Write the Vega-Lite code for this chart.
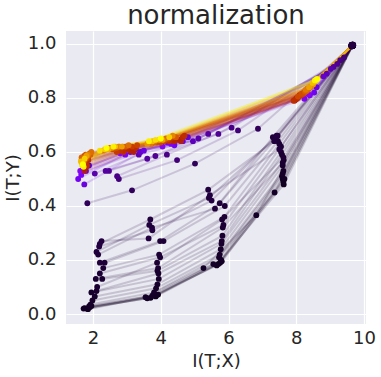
{
  "$schema": "https://vega.github.io/schema/vega-lite/v6.json",
  "width": 300,
  "height": 293,
  "padding": {"left": 4, "top": 3, "right": 0, "bottom": 0},
  "background": "white",
  "title": {"text": "normalization", "fontSize": 26, "font": "DejaVu Sans", "fontWeight": "normal", "color": "#262626", "offset": 2, "anchor": "middle"},
  "config": {
    "view": {"fill": "#EAEAF2", "stroke": null},
    "axis": {"domain": false, "ticks": false, "gridColor": "#ffffff", "gridWidth": 1.2, "labelFont": "DejaVu Sans", "labelFontSize": 18, "labelColor": "#262626", "titleFont": "DejaVu Sans", "titleFontSize": 18, "titleFontWeight": "normal", "titleColor": "#262626"}
  },
  "data": {"values": [
    {"epoch":20,"layer":1,"x":9.66,"y":0.995},{"epoch":20,"layer":2,"x":7.62,"y":0.49},{"epoch":20,"layer":3,"x":5.75,"y":0.19},{"epoch":20,"layer":4,"x":3.85,"y":0.065},{"epoch":20,"layer":5,"x":1.80,"y":0.02},
    {"epoch":21,"layer":1,"x":9.65,"y":0.993},{"epoch":21,"layer":2,"x":7.60,"y":0.50},{"epoch":21,"layer":3,"x":5.70,"y":0.185},{"epoch":21,"layer":4,"x":3.70,"y":0.06},{"epoch":21,"layer":5,"x":1.75,"y":0.022},
    {"epoch":22,"layer":1,"x":9.67,"y":0.996},{"epoch":22,"layer":2,"x":7.63,"y":0.48},{"epoch":22,"layer":3,"x":5.78,"y":0.20},{"epoch":22,"layer":4,"x":3.88,"y":0.07},{"epoch":22,"layer":5,"x":1.85,"y":0.018},
    {"epoch":23,"layer":1,"x":9.64,"y":0.992},{"epoch":23,"layer":2,"x":7.58,"y":0.51},{"epoch":23,"layer":3,"x":5.65,"y":0.18},{"epoch":23,"layer":4,"x":3.60,"y":0.058},{"epoch":23,"layer":5,"x":1.90,"y":0.025},
    {"epoch":24,"layer":1,"x":9.66,"y":0.994},{"epoch":24,"layer":2,"x":7.65,"y":0.50},{"epoch":24,"layer":3,"x":5.80,"y":0.195},{"epoch":24,"layer":4,"x":3.92,"y":0.072},{"epoch":24,"layer":5,"x":1.95,"y":0.03},
    {"epoch":25,"layer":1,"x":9.65,"y":0.995},{"epoch":25,"layer":2,"x":6.82,"y":0.366},{"epoch":25,"layer":3,"x":5.26,"y":0.17},{"epoch":25,"layer":4,"x":3.55,"y":0.062},{"epoch":25,"layer":5,"x":1.72,"y":0.02},
    {"epoch":26,"layer":1,"x":9.67,"y":0.994},{"epoch":26,"layer":2,"x":7.36,"y":0.45},{"epoch":26,"layer":3,"x":5.55,"y":0.185},{"epoch":26,"layer":4,"x":3.75,"y":0.068},{"epoch":26,"layer":5,"x":1.88,"y":0.028},
    {"epoch":27,"layer":1,"x":9.66,"y":0.996},{"epoch":27,"layer":2,"x":7.60,"y":0.52},{"epoch":27,"layer":3,"x":5.72,"y":0.21},{"epoch":27,"layer":4,"x":3.80,"y":0.08},{"epoch":27,"layer":5,"x":1.92,"y":0.035},
    {"epoch":28,"layer":1,"x":9.65,"y":0.993},{"epoch":28,"layer":2,"x":7.62,"y":0.53},{"epoch":28,"layer":3,"x":5.74,"y":0.22},{"epoch":28,"layer":4,"x":3.86,"y":0.095},{"epoch":28,"layer":5,"x":1.98,"y":0.05},
    {"epoch":29,"layer":1,"x":9.66,"y":0.995},{"epoch":29,"layer":2,"x":7.60,"y":0.55},{"epoch":29,"layer":3,"x":5.77,"y":0.24},{"epoch":29,"layer":4,"x":3.90,"y":0.11},{"epoch":29,"layer":5,"x":2.05,"y":0.065},
    {"epoch":30,"layer":1,"x":9.64,"y":0.994},{"epoch":30,"layer":2,"x":7.63,"y":0.57},{"epoch":30,"layer":3,"x":5.79,"y":0.26},{"epoch":30,"layer":4,"x":3.94,"y":0.13},{"epoch":30,"layer":5,"x":1.95,"y":0.08},
    {"epoch":31,"layer":1,"x":9.66,"y":0.996},{"epoch":31,"layer":2,"x":7.58,"y":0.59},{"epoch":31,"layer":3,"x":5.80,"y":0.27},{"epoch":31,"layer":4,"x":3.93,"y":0.15},{"epoch":31,"layer":5,"x":2.10,"y":0.085},
    {"epoch":32,"layer":1,"x":9.65,"y":0.995},{"epoch":32,"layer":2,"x":7.55,"y":0.60},{"epoch":32,"layer":3,"x":5.82,"y":0.29},{"epoch":32,"layer":4,"x":3.90,"y":0.16},{"epoch":32,"layer":5,"x":2.27,"y":0.13},
    {"epoch":33,"layer":1,"x":9.67,"y":0.994},{"epoch":33,"layer":2,"x":7.60,"y":0.56},{"epoch":33,"layer":3,"x":5.83,"y":0.32},{"epoch":33,"layer":4,"x":3.92,"y":0.17},{"epoch":33,"layer":5,"x":2.08,"y":0.13},
    {"epoch":34,"layer":1,"x":9.66,"y":0.995},{"epoch":34,"layer":2,"x":7.62,"y":0.58},{"epoch":34,"layer":3,"x":5.81,"y":0.35},{"epoch":34,"layer":4,"x":3.89,"y":0.19},{"epoch":34,"layer":5,"x":2.12,"y":0.10},
    {"epoch":35,"layer":1,"x":9.65,"y":0.993},{"epoch":35,"layer":2,"x":7.55,"y":0.62},{"epoch":35,"layer":3,"x":5.85,"y":0.33},{"epoch":35,"layer":4,"x":3.98,"y":0.21},{"epoch":35,"layer":5,"x":2.20,"y":0.15},
    {"epoch":36,"layer":1,"x":9.66,"y":0.996},{"epoch":36,"layer":2,"x":7.50,"y":0.63},{"epoch":36,"layer":3,"x":5.88,"y":0.36},{"epoch":36,"layer":4,"x":3.95,"y":0.22},{"epoch":36,"layer":5,"x":2.30,"y":0.17},
    {"epoch":37,"layer":1,"x":9.64,"y":0.995},{"epoch":37,"layer":2,"x":7.46,"y":0.64},{"epoch":37,"layer":3,"x":5.89,"y":0.40},{"epoch":37,"layer":4,"x":4.08,"y":0.27},{"epoch":37,"layer":5,"x":2.34,"y":0.19},
    {"epoch":38,"layer":1,"x":9.66,"y":0.994},{"epoch":38,"layer":2,"x":7.40,"y":0.65},{"epoch":38,"layer":3,"x":5.74,"y":0.41},{"epoch":38,"layer":4,"x":3.98,"y":0.27},{"epoch":38,"layer":5,"x":2.20,"y":0.19},
    {"epoch":39,"layer":1,"x":9.65,"y":0.995},{"epoch":39,"layer":2,"x":7.31,"y":0.655},{"epoch":39,"layer":3,"x":5.60,"y":0.39},{"epoch":39,"layer":4,"x":3.74,"y":0.32},{"epoch":39,"layer":5,"x":2.15,"y":0.22},
    {"epoch":40,"layer":1,"x":9.67,"y":0.996},{"epoch":40,"layer":2,"x":7.45,"y":0.66},{"epoch":40,"layer":3,"x":5.42,"y":0.43},{"epoch":40,"layer":4,"x":3.66,"y":0.33},{"epoch":40,"layer":5,"x":2.10,"y":0.23},
    {"epoch":41,"layer":1,"x":9.66,"y":0.995},{"epoch":41,"layer":2,"x":7.35,"y":0.64},{"epoch":41,"layer":3,"x":5.40,"y":0.46},{"epoch":41,"layer":4,"x":3.69,"y":0.35},{"epoch":41,"layer":5,"x":2.20,"y":0.26},
    {"epoch":42,"layer":1,"x":9.65,"y":0.994},{"epoch":42,"layer":2,"x":7.50,"y":0.61},{"epoch":42,"layer":3,"x":5.45,"y":0.44},{"epoch":42,"layer":4,"x":3.64,"y":0.28},{"epoch":42,"layer":5,"x":2.25,"y":0.27},
    {"epoch":43,"layer":1,"x":9.66,"y":0.995},{"epoch":43,"layer":2,"x":7.42,"y":0.66},{"epoch":43,"layer":3,"x":5.50,"y":0.42},{"epoch":43,"layer":4,"x":3.75,"y":0.31},{"epoch":43,"layer":5,"x":2.18,"y":0.25},
    {"epoch":60,"layer":1,"x":9.64,"y":0.992},{"epoch":60,"layer":2,"x":6.87,"y":0.686},{"epoch":60,"layer":3,"x":5.01,"y":0.557},{"epoch":60,"layer":4,"x":3.15,"y":0.458},{"epoch":60,"layer":5,"x":1.83,"y":0.41},
    {"epoch":80,"layer":1,"x":9.65,"y":0.993},{"epoch":80,"layer":2,"x":9.41,"y":0.95},{"epoch":80,"layer":3,"x":6.28,"y":0.68},{"epoch":80,"layer":4,"x":4.48,"y":0.57},{"epoch":80,"layer":5,"x":2.76,"y":0.50},
    {"epoch":90,"layer":1,"x":9.64,"y":0.994},{"epoch":90,"layer":2,"x":9.30,"y":0.94},{"epoch":90,"layer":3,"x":6.09,"y":0.69},{"epoch":90,"layer":4,"x":4.18,"y":0.59},{"epoch":90,"layer":5,"x":2.71,"y":0.51},
    {"epoch":100,"layer":1,"x":9.65,"y":0.992},{"epoch":100,"layer":2,"x":9.21,"y":0.926},{"epoch":100,"layer":3,"x":5.70,"y":0.667},{"epoch":100,"layer":4,"x":3.84,"y":0.585},{"epoch":100,"layer":5,"x":2.47,"y":0.53},
    {"epoch":110,"layer":1,"x":9.63,"y":0.993},{"epoch":110,"layer":2,"x":9.10,"y":0.915},{"epoch":110,"layer":3,"x":5.40,"y":0.667},{"epoch":110,"layer":4,"x":3.60,"y":0.575},{"epoch":110,"layer":5,"x":2.37,"y":0.53},
    {"epoch":125,"layer":1,"x":9.65,"y":0.994},{"epoch":125,"layer":2,"x":9.02,"y":0.908},{"epoch":125,"layer":3,"x":5.11,"y":0.65},{"epoch":125,"layer":4,"x":3.35,"y":0.59},{"epoch":125,"layer":5,"x":2.05,"y":0.52},
    {"epoch":140,"layer":1,"x":9.64,"y":0.992},{"epoch":140,"layer":2,"x":8.90,"y":0.89},{"epoch":140,"layer":3,"x":4.95,"y":0.64},{"epoch":140,"layer":4,"x":3.26,"y":0.61},{"epoch":140,"layer":5,"x":1.88,"y":0.55},
    {"epoch":160,"layer":1,"x":9.65,"y":0.993},{"epoch":160,"layer":2,"x":8.80,"y":0.88},{"epoch":160,"layer":3,"x":4.80,"y":0.655},{"epoch":160,"layer":4,"x":3.40,"y":0.60},{"epoch":160,"layer":5,"x":1.79,"y":0.53},
    {"epoch":180,"layer":1,"x":9.64,"y":0.992},{"epoch":180,"layer":2,"x":8.60,"y":0.84},{"epoch":180,"layer":3,"x":4.65,"y":0.64},{"epoch":180,"layer":4,"x":3.50,"y":0.605},{"epoch":180,"layer":5,"x":1.74,"y":0.48},
    {"epoch":200,"layer":1,"x":9.65,"y":0.993},{"epoch":200,"layer":2,"x":8.53,"y":0.82},{"epoch":200,"layer":3,"x":4.40,"y":0.625},{"epoch":200,"layer":4,"x":3.10,"y":0.60},{"epoch":200,"layer":5,"x":1.56,"y":0.50},
    {"epoch":225,"layer":1,"x":9.64,"y":0.992},{"epoch":225,"layer":2,"x":8.40,"y":0.81},{"epoch":225,"layer":3,"x":4.20,"y":0.635},{"epoch":225,"layer":4,"x":2.95,"y":0.59},{"epoch":225,"layer":5,"x":1.65,"y":0.515},
    {"epoch":250,"layer":1,"x":9.65,"y":0.993},{"epoch":250,"layer":2,"x":8.24,"y":0.797},{"epoch":250,"layer":3,"x":4.30,"y":0.63},{"epoch":250,"layer":4,"x":3.20,"y":0.605},{"epoch":250,"layer":5,"x":1.70,"y":0.535},
    {"epoch":280,"layer":1,"x":9.64,"y":0.992},{"epoch":280,"layer":2,"x":8.35,"y":0.815},{"epoch":280,"layer":3,"x":4.05,"y":0.62},{"epoch":280,"layer":4,"x":2.80,"y":0.595},{"epoch":280,"layer":5,"x":1.62,"y":0.53},
    {"epoch":480,"layer":1,"x":9.65,"y":0.992},{"epoch":480,"layer":2,"x":7.95,"y":0.79},{"epoch":480,"layer":3,"x":4.60,"y":0.64},{"epoch":480,"layer":4,"x":3.20,"y":0.60},{"epoch":480,"layer":5,"x":1.75,"y":0.53},
    {"epoch":492,"layer":1,"x":9.64,"y":0.993},{"epoch":492,"layer":2,"x":8.02,"y":0.80},{"epoch":492,"layer":3,"x":4.55,"y":0.645},{"epoch":492,"layer":4,"x":3.15,"y":0.61},{"epoch":492,"layer":5,"x":1.78,"y":0.56},
    {"epoch":505,"layer":1,"x":9.64,"y":0.993},{"epoch":505,"layer":2,"x":8.00,"y":0.795},{"epoch":505,"layer":3,"x":4.50,"y":0.645},{"epoch":505,"layer":4,"x":3.10,"y":0.605},{"epoch":505,"layer":5,"x":1.80,"y":0.545},
    {"epoch":517,"layer":1,"x":9.65,"y":0.992},{"epoch":517,"layer":2,"x":8.12,"y":0.81},{"epoch":517,"layer":3,"x":4.35,"y":0.645},{"epoch":517,"layer":4,"x":2.85,"y":0.61},{"epoch":517,"layer":5,"x":1.73,"y":0.565},
    {"epoch":530,"layer":1,"x":9.65,"y":0.992},{"epoch":530,"layer":2,"x":8.05,"y":0.80},{"epoch":530,"layer":3,"x":4.40,"y":0.64},{"epoch":530,"layer":4,"x":3.00,"y":0.61},{"epoch":530,"layer":5,"x":1.72,"y":0.55},
    {"epoch":542,"layer":1,"x":9.64,"y":0.993},{"epoch":542,"layer":2,"x":7.98,"y":0.795},{"epoch":542,"layer":3,"x":4.65,"y":0.655},{"epoch":542,"layer":4,"x":3.25,"y":0.615},{"epoch":542,"layer":5,"x":1.86,"y":0.57},
    {"epoch":555,"layer":1,"x":9.64,"y":0.993},{"epoch":555,"layer":2,"x":7.92,"y":0.79},{"epoch":555,"layer":3,"x":4.70,"y":0.66},{"epoch":555,"layer":4,"x":2.90,"y":0.60},{"epoch":555,"layer":5,"x":1.82,"y":0.55},
    {"epoch":567,"layer":1,"x":9.65,"y":0.992},{"epoch":567,"layer":2,"x":8.18,"y":0.815},{"epoch":567,"layer":3,"x":4.25,"y":0.64},{"epoch":567,"layer":4,"x":2.75,"y":0.605},{"epoch":567,"layer":5,"x":1.69,"y":0.56},
    {"epoch":580,"layer":1,"x":9.65,"y":0.992},{"epoch":580,"layer":2,"x":8.10,"y":0.81},{"epoch":580,"layer":3,"x":4.30,"y":0.65},{"epoch":580,"layer":4,"x":2.80,"y":0.605},{"epoch":580,"layer":5,"x":1.76,"y":0.56},
    {"epoch":592,"layer":1,"x":9.64,"y":0.993},{"epoch":592,"layer":2,"x":8.08,"y":0.805},{"epoch":592,"layer":3,"x":4.12,"y":0.645},{"epoch":592,"layer":4,"x":2.65,"y":0.615},{"epoch":592,"layer":5,"x":1.81,"y":0.58},
    {"epoch":605,"layer":1,"x":9.64,"y":0.993},{"epoch":605,"layer":2,"x":8.15,"y":0.81},{"epoch":605,"layer":3,"x":4.20,"y":0.645},{"epoch":605,"layer":4,"x":2.70,"y":0.60},{"epoch":605,"layer":5,"x":1.68,"y":0.57},
    {"epoch":617,"layer":1,"x":9.65,"y":0.992},{"epoch":617,"layer":2,"x":8.22,"y":0.82},{"epoch":617,"layer":3,"x":3.98,"y":0.64},{"epoch":617,"layer":4,"x":3.15,"y":0.62},{"epoch":617,"layer":5,"x":1.74,"y":0.585},
    {"epoch":630,"layer":1,"x":9.65,"y":0.992},{"epoch":630,"layer":2,"x":8.20,"y":0.815},{"epoch":630,"layer":3,"x":4.10,"y":0.64},{"epoch":630,"layer":4,"x":3.30,"y":0.625},{"epoch":630,"layer":5,"x":1.85,"y":0.58},
    {"epoch":642,"layer":1,"x":9.64,"y":0.993},{"epoch":642,"layer":2,"x":8.32,"y":0.83},{"epoch":642,"layer":3,"x":4.38,"y":0.655},{"epoch":642,"layer":4,"x":2.55,"y":0.61},{"epoch":642,"layer":5,"x":1.88,"y":0.59},
    {"epoch":655,"layer":1,"x":9.64,"y":0.993},{"epoch":655,"layer":2,"x":8.05,"y":0.805},{"epoch":655,"layer":3,"x":4.00,"y":0.635},{"epoch":655,"layer":4,"x":2.60,"y":0.61},{"epoch":655,"layer":5,"x":1.70,"y":0.575},
    {"epoch":667,"layer":1,"x":9.65,"y":0.992},{"epoch":667,"layer":2,"x":8.15,"y":0.815},{"epoch":667,"layer":3,"x":3.88,"y":0.635},{"epoch":667,"layer":4,"x":2.98,"y":0.62},{"epoch":667,"layer":5,"x":1.66,"y":0.57},
    {"epoch":680,"layer":1,"x":9.65,"y":0.992},{"epoch":680,"layer":2,"x":8.25,"y":0.82},{"epoch":680,"layer":3,"x":3.90,"y":0.64},{"epoch":680,"layer":4,"x":2.50,"y":0.615},{"epoch":680,"layer":5,"x":1.78,"y":0.59},
    {"epoch":692,"layer":1,"x":9.64,"y":0.993},{"epoch":692,"layer":2,"x":8.36,"y":0.835},{"epoch":692,"layer":3,"x":4.22,"y":0.65},{"epoch":692,"layer":4,"x":2.68,"y":0.615},{"epoch":692,"layer":5,"x":1.79,"y":0.575},
    {"epoch":705,"layer":1,"x":9.64,"y":0.993},{"epoch":705,"layer":2,"x":8.30,"y":0.825},{"epoch":705,"layer":3,"x":4.45,"y":0.655},{"epoch":705,"layer":4,"x":2.95,"y":0.62},{"epoch":705,"layer":5,"x":1.90,"y":0.595},
    {"epoch":717,"layer":1,"x":9.65,"y":0.992},{"epoch":717,"layer":2,"x":8.26,"y":0.825},{"epoch":717,"layer":3,"x":3.72,"y":0.63},{"epoch":717,"layer":4,"x":2.88,"y":0.62},{"epoch":717,"layer":5,"x":1.92,"y":0.59},
    {"epoch":730,"layer":1,"x":9.65,"y":0.992},{"epoch":730,"layer":2,"x":8.35,"y":0.83},{"epoch":730,"layer":3,"x":3.80,"y":0.635},{"epoch":730,"layer":4,"x":2.40,"y":0.61},{"epoch":730,"layer":5,"x":1.66,"y":0.58},
    {"epoch":742,"layer":1,"x":9.64,"y":0.993},{"epoch":742,"layer":2,"x":8.42,"y":0.84},{"epoch":742,"layer":3,"x":4.08,"y":0.645},{"epoch":742,"layer":4,"x":2.48,"y":0.61},{"epoch":742,"layer":5,"x":1.71,"y":0.57},
    {"epoch":755,"layer":1,"x":9.64,"y":0.993},{"epoch":755,"layer":2,"x":8.40,"y":0.84},{"epoch":755,"layer":3,"x":4.15,"y":0.65},{"epoch":755,"layer":4,"x":3.05,"y":0.625},{"epoch":755,"layer":5,"x":1.95,"y":0.60},
    {"epoch":767,"layer":1,"x":9.65,"y":0.992},{"epoch":767,"layer":2,"x":8.33,"y":0.835},{"epoch":767,"layer":3,"x":3.82,"y":0.64},{"epoch":767,"layer":4,"x":2.78,"y":0.62},{"epoch":767,"layer":5,"x":1.83,"y":0.585},
    {"epoch":780,"layer":1,"x":9.65,"y":0.992},{"epoch":780,"layer":2,"x":8.28,"y":0.83},{"epoch":780,"layer":3,"x":3.70,"y":0.63},{"epoch":780,"layer":4,"x":2.30,"y":0.605},{"epoch":780,"layer":5,"x":1.72,"y":0.565},
    {"epoch":805,"layer":1,"x":9.64,"y":0.993},{"epoch":805,"layer":2,"x":8.45,"y":0.845},{"epoch":805,"layer":3,"x":4.35,"y":0.66},{"epoch":805,"layer":4,"x":2.75,"y":0.62},{"epoch":805,"layer":5,"x":1.84,"y":0.59},
    {"epoch":830,"layer":1,"x":9.65,"y":0.992},{"epoch":830,"layer":2,"x":8.50,"y":0.85},{"epoch":830,"layer":3,"x":3.60,"y":0.63},{"epoch":830,"layer":4,"x":2.55,"y":0.615},{"epoch":830,"layer":5,"x":1.67,"y":0.56},
    {"epoch":855,"layer":1,"x":9.64,"y":0.993},{"epoch":855,"layer":2,"x":8.38,"y":0.84},{"epoch":855,"layer":3,"x":4.05,"y":0.645},{"epoch":855,"layer":4,"x":2.85,"y":0.62},{"epoch":855,"layer":5,"x":1.80,"y":0.585},
    {"epoch":880,"layer":1,"x":9.65,"y":0.992},{"epoch":880,"layer":2,"x":8.55,"y":0.86},{"epoch":880,"layer":3,"x":3.95,"y":0.645},{"epoch":880,"layer":4,"x":2.45,"y":0.61},{"epoch":880,"layer":5,"x":1.70,"y":0.555},
    {"epoch":905,"layer":1,"x":9.64,"y":0.993},{"epoch":905,"layer":2,"x":8.48,"y":0.855},{"epoch":905,"layer":3,"x":3.75,"y":0.64},{"epoch":905,"layer":4,"x":2.65,"y":0.62},{"epoch":905,"layer":5,"x":1.64,"y":0.565},
    {"epoch":930,"layer":1,"x":9.65,"y":0.992},{"epoch":930,"layer":2,"x":8.58,"y":0.865},{"epoch":930,"layer":3,"x":4.25,"y":0.655},{"epoch":930,"layer":4,"x":2.35,"y":0.61},{"epoch":930,"layer":5,"x":1.75,"y":0.575},
    {"epoch":955,"layer":1,"x":9.64,"y":0.993},{"epoch":955,"layer":2,"x":8.60,"y":0.87},{"epoch":955,"layer":3,"x":3.85,"y":0.645},{"epoch":955,"layer":4,"x":2.20,"y":0.605},{"epoch":955,"layer":5,"x":1.68,"y":0.55},
    {"epoch":980,"layer":1,"x":9.65,"y":0.992},{"epoch":980,"layer":2,"x":8.55,"y":0.865},{"epoch":980,"layer":3,"x":3.65,"y":0.64},{"epoch":980,"layer":4,"x":2.60,"y":0.62},{"epoch":980,"layer":5,"x":1.72,"y":0.545},
    {"epoch":1000,"layer":1,"x":9.64,"y":0.993},{"epoch":1000,"layer":2,"x":8.62,"y":0.87},{"epoch":1000,"layer":3,"x":4.00,"y":0.65},{"epoch":1000,"layer":4,"x":2.40,"y":0.615},{"epoch":1000,"layer":5,"x":1.70,"y":0.555}
  ]},
  "encoding": {
    "x": {"field": "x", "type": "quantitative", "scale": {"domain": [1.2, 10.06], "nice": false, "zero": false}, "axis": {"values": [2, 4, 6, 8, 10], "title": "I(T;X)", "labelPadding": 5, "titlePadding": 5}},
    "y": {"field": "y", "type": "quantitative", "scale": {"domain": [-0.037, 1.048], "nice": false, "zero": false}, "axis": {"values": [0, 0.2, 0.4, 0.6, 0.8, 1.0], "format": ".1f", "title": "I(T;Y)", "labelPadding": 10, "titlePadding": 5}},
    "color": {"field": "epoch", "type": "quantitative", "scale": {"domain": [0, 1000], "interpolate": "rgb", "range": ["#000000", "#510096", "#7202f2", "#8c07f2", "#a11096", "#b42000", "#c53700", "#d55700", "#e48300", "#f2ba00", "#ffff00"]}, "legend": null}
  },
  "layer": [
    {"mark": {"type": "line", "strokeWidth": 2, "opacity": 0.17}, "encoding": {"detail": {"field": "epoch"}, "order": {"field": "layer"}}},
    {"mark": {"type": "point", "filled": true, "size": 34, "opacity": 1}, "encoding": {"order": {"field": "epoch"}}},
    {"transform": [{"filter": "datum.layer == 1 && datum.epoch < 50"}], "mark": {"type": "point", "filled": true, "size": 44, "opacity": 1}}
  ]
}
